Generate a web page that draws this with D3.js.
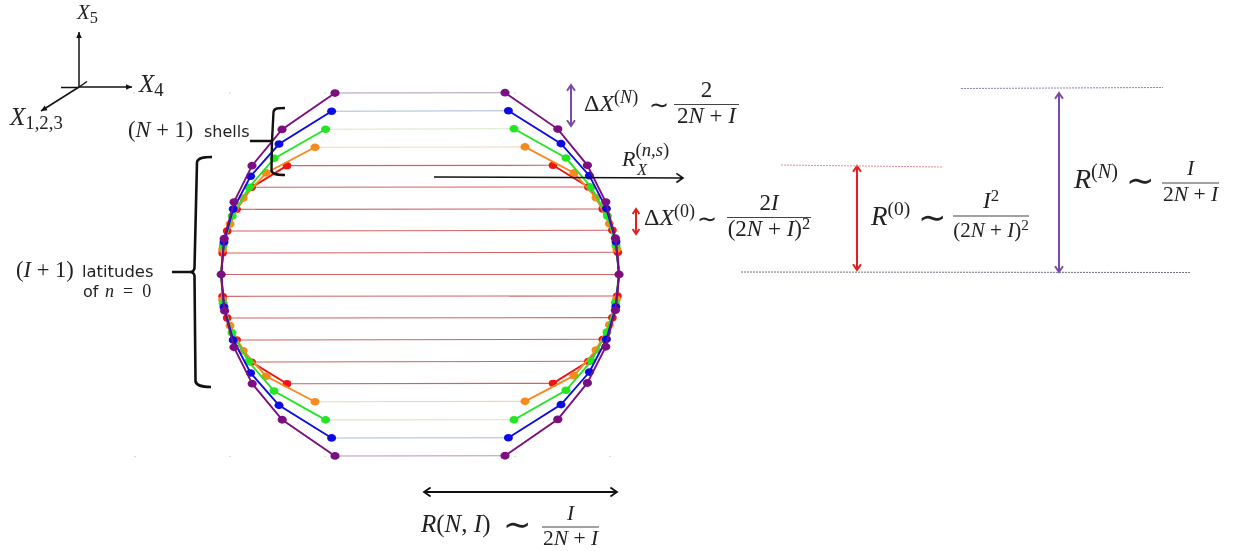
<!DOCTYPE html>
<meta charset="utf-8">
<html>
<head>
<style>
	body { margin: 0; background: white; overflow: hidden; }
	svg { display: block; filter: blur(0.45px); }
</style>
</head>
<body>
	<div id="chart"></div>
	<script src="https://d3js.org/d3.v7.min.js"></script>
	<script>
		// shells in unit coordinates, [x, y], top to bottom, the equator point is added below
		const purpleLeft = [[-0.425,0.997],[-0.69,0.797],[-0.84,0.598],[-0.93,0.398],[-0.979,0.197],[-0.977,-0.199],[-0.93,-0.4],[-0.839,-0.6],[-0.689,-0.798],[-0.425,-0.997]];
		const purpleRight = [[0.425,0.999],[0.689,0.799],[0.837,0.6],[0.929,0.398],[0.977,0.199],[0.977,-0.197],[0.929,-0.397],[0.837,-0.596],[0.689,-0.796],[0.425,-0.996]];
		const blueLeft = [[-0.442,0.897],[-0.705,0.717],[-0.847,0.54],[-0.934,0.36],[-0.98,0.179],[-0.98,-0.179],[-0.934,-0.36],[-0.847,-0.541],[-0.705,-0.719],[-0.442,-0.898]];
		const blueRight = [[0.442,0.9],[0.705,0.719],[0.847,0.543],[0.932,0.362],[0.98,0.18],[0.979,-0.177],[0.932,-0.356],[0.847,-0.536],[0.705,-0.715],[0.442,-0.897]];
		const greenLeft = [[-0.472,0.798],[-0.729,0.638],[-0.855,0.479],[-0.939,0.321],[-0.984,0.158],[-0.984,-0.158],[-0.94,-0.32],[-0.857,-0.479],[-0.73,-0.64],[-0.472,-0.799]];
		const greenRight = [[0.47,0.801],[0.73,0.64],[0.855,0.481],[0.937,0.321],[0.98,0.16],[0.977,-0.155],[0.935,-0.316],[0.857,-0.475],[0.73,-0.636],[0.47,-0.798]];
		const orangeLeft = [[-0.525,0.699],[-0.769,0.558],[-0.884,0.42],[-0.95,0.277],[-0.987,0.138],[-0.987,-0.14],[-0.95,-0.281],[-0.884,-0.419],[-0.769,-0.559],[-0.525,-0.699]];
		const orangeRight = [[0.525,0.701],[0.77,0.558],[0.88,0.422],[0.947,0.279],[0.984,0.14],[0.982,-0.136],[0.947,-0.277],[0.88,-0.415],[0.77,-0.556],[0.525,-0.697]];
		const redLeft = [[-0.665,0.598],[-0.842,0.479],[-0.917,0.358],[-0.964,0.239],[-0.987,0.118],[-0.987,-0.12],[-0.964,-0.239],[-0.917,-0.36],[-0.842,-0.481],[-0.665,-0.6]];
		const redRight = [[0.665,0.6],[0.842,0.481],[0.914,0.36],[0.962,0.243],[0.989,0.122],[0.987,-0.118],[0.962,-0.237],[0.914,-0.356],[0.842,-0.477],[0.665,-0.598]];
		const equatorLeft = [-0.994, 0];
		const equatorRight = [0.995, 0];

		let width = 1235,
		    height = 551;

		let x = d3.scaleLinear().domain([-1, 1]).range([220, 620]);
		let y = d3.scaleLinear().domain([-1, 1]).range([456.5, 92.5]);

		var svg = d3.select("#chart").append("svg")
		    .attr("width", width)
		    .attr("height", height);

		// red first, purple ends up on top
		let shells = [
			{left: redLeft, right: redRight, color: "#ee1414", line: "#d06464", r: 4.3},
			{left: orangeLeft, right: orangeRight, color: "#f58a1f", line: "#f3d6bd", r: 4.5},
			{left: greenLeft, right: greenRight, color: "#22e622", line: "#d6e9c6", r: 4.5},
			{left: blueLeft, right: blueRight, color: "#0c0ce2", line: "#a9bcd8", r: 4.5},
			{left: purpleLeft, right: purpleRight, color: "#7c0f80", line: "#b596b8", r: 4.6}
		];

		let lineGen = d3.line().x(d => x(d[0])).y(d => y(d[1]));
		let withEquator = (pts, eq) => pts.slice(0, 5).concat([eq], pts.slice(5));

		// latitudes
		let lats = [];
		shells.forEach((s, k) => {
			let idx = k == 0 ? d3.range(10) : [0, 9];
			idx.forEach(i => lats.push({a: s.left[i], b: s.right[i], color: s.line}));
		});
		lats.push({a: equatorLeft, b: equatorRight, color: "#d06464"});

		svg.append("g").selectAll("line")
		    .data(lats)
		    .enter()
		    .append("line")
		    .attr("x1", d => x(d.a[0]))
		    .attr("y1", d => y(d.a[1]))
		    .attr("x2", d => x(d.b[0]))
		    .attr("y2", d => y(d.b[1]))
		    .attr("stroke", d => d.color)
		    .attr("stroke-width", 1.1);

		shells.forEach(s => {
			let g = svg.append("g");
			let left = withEquator(s.left, equatorLeft),
			    right = withEquator(s.right, equatorRight);
			[left, right].forEach(pts => {
				g.append("path")
				    .attr("d", lineGen(pts))
				    .attr("fill", "none")
				    .attr("stroke", s.color)
				    .attr("stroke-width", 1.9);
			});
			g.selectAll("ellipse")
			    .data(s.left.concat(s.right))
			    .enter()
			    .append("ellipse")
			    .attr("cx", d => x(d[0]))
			    .attr("cy", d => y(d[1]))
			    .attr("rx", s.r)
			    .attr("ry", s.r * 0.85)
			    .attr("fill", s.color);
		});

		// equator points
		svg.append("g").selectAll("ellipse")
		    .data([equatorLeft, equatorRight])
		    .enter()
		    .append("ellipse")
		    .attr("cx", d => x(d[0]))
		    .attr("cy", d => y(d[1]))
		    .attr("rx", 4.6)
		    .attr("ry", 3.9)
		    .attr("fill", "#7c0f80");

		// little leftovers around the figure
		[[134, 93], [230, 93], [325, 93], [515, 93], [135, 456.5], [230, 456.5], [325, 456.5], [515, 456.5], [610, 456.5]].forEach(d => {
			svg.append("circle")
			    .attr("cx", d[0]).attr("cy", d[1]).attr("r", 0.8)
			    .attr("fill", "#d9cfa8");
		});

		// arrow with open heads, both = head on both ends
		function arrow(x1, y1, x2, y2, color, w, both, h) {
			h = h || 6;
			let ang = Math.atan2(y2 - y1, x2 - x1);
			let p = d3.path();
			p.moveTo(x1, y1);
			p.lineTo(x2, y2);
			let head = (px, py, a) => {
				p.moveTo(px - h * Math.cos(a - 0.6), py - h * Math.sin(a - 0.6));
				p.lineTo(px, py);
				p.lineTo(px - h * Math.cos(a + 0.6), py - h * Math.sin(a + 0.6));
			};
			head(x2, y2, ang);
			if (both) head(x1, y1, ang + Math.PI);
			svg.append("path")
			    .attr("d", p.toString())
			    .attr("fill", "none")
			    .attr("stroke", color)
			    .attr("stroke-width", w);
		}

		function solidArrow(x1, y1, x2, y2) {
			let ang = Math.atan2(y2 - y1, x2 - x1);
			svg.append("line")
			    .attr("x1", x1).attr("y1", y1).attr("x2", x2).attr("y2", y2)
			    .attr("stroke", "#111").attr("stroke-width", 1.5);
			let a = 6, b = 2.8;
			let pts = [[x2, y2],
				[x2 - a * Math.cos(ang) - b * Math.sin(ang), y2 - a * Math.sin(ang) + b * Math.cos(ang)],
				[x2 - a * Math.cos(ang) + b * Math.sin(ang), y2 - a * Math.sin(ang) - b * Math.cos(ang)]];
			svg.append("polygon").attr("points", pts.join(" ")).attr("fill", "#111");
		}

		// coordinate cross
		solidArrow(79, 87, 79, 32);
		solidArrow(79, 87, 132, 87);
		solidArrow(79, 87, 41, 111);
		svg.append("path")
		    .attr("d", "M61,87.5L79,87.5M79,87L87,81.5")
		    .attr("stroke", "#111").attr("stroke-width", 1.5).attr("fill", "none");

		const purple = "#7b4aa6", red = "#e02020", ink = "#222";

		arrow(571, 85, 571, 126, purple, 2, true, 7);
		arrow(636, 209, 636, 234, red, 2, true, 6);
		arrow(434, 177, 683, 178, "#111", 1.6, false, 8);
		arrow(424, 492, 617, 492, "#111", 1.8, true, 8);
		arrow(857, 166, 857, 270, red, 2.1, true, 7);
		arrow(1059, 93, 1059, 272, purple, 2, true, 7);

		// dotted levels
		[[781, 165, 943, 167, "#e58a8a"], [961, 88.5, 1163, 87.5, "#8f7db8"], [741, 272, 1191, 272.5, "#6f6f80"]].forEach(d => {
			svg.append("line")
			    .attr("x1", d[0]).attr("y1", d[1]).attr("x2", d[2]).attr("y2", d[3])
			    .attr("stroke", d[4]).attr("stroke-width", 1)
			    .attr("stroke-dasharray", "2 1");
		});

		// braces
		svg.append("path")
		    .attr("d", "M285,108C278,108 274,108 273.5,112L272,141L250,141M272,141L271.5,170C271.5,174 276,175 285,175")
		    .attr("fill", "none").attr("stroke", "#111").attr("stroke-width", 2.4);
		svg.append("path")
		    .attr("d", "M212,157C203,157 198,158 197,162L194.5,268Q194,272 190,272L172,272M190,272Q194,272 194.5,276L195.5,381C196,386 203,387 211,387")
		    .attr("fill", "none").attr("stroke", "#111").attr("stroke-width", 2.6);

		// text, pieces are [string, kind, size factor, rise, dx]
		const serif = "'Liberation Serif', serif";
		function math(px, py, pieces, size, anchor) {
			let t = svg.append("text")
			    .attr("x", px).attr("y", py)
			    .attr("text-anchor", anchor || "start")
			    .attr("font-family", serif)
			    .attr("font-size", size)
			    .attr("fill", ink);
			let rise = 0;
			pieces.forEach(p => {
				let r = p[3] || 0;
				let ts = t.append("tspan")
				    .attr("dy", rise - r)
				    .attr("font-size", size * (p[2] || 1))
				    .text(p[0]);
				if (p[4]) ts.attr("dx", p[4]);
				if (p[1] == "i") ts.attr("font-style", "italic");
				if (p[1] == "s") ts.attr("font-family", "'DejaVu Sans', sans-serif");
				rise = r;
			});
		}
		function sans(px, py, str, size, anchor) {
			svg.append("text")
			    .attr("x", px).attr("y", py)
			    .attr("text-anchor", anchor || "start")
			    .attr("font-family", "'DejaVu Sans', sans-serif")
			    .attr("font-size", size)
			    .attr("fill", ink)
			    .text(str);
		}
		function frac(x1, x2, barY, numY, denY, num, den, size) {
			svg.append("line")
			    .attr("x1", x1).attr("x2", x2).attr("y1", barY).attr("y2", barY)
			    .attr("stroke", "#444").attr("stroke-width", 1.1);
			math((x1 + x2) / 2, numY, num, size, "middle");
			math((x1 + x2) / 2, denY, den, size, "middle");
		}
		let denom = [["2"], ["N", "i"], [" + "], ["I", "i"]];
		let denomSq = [["(2"], ["N", "i"], [" + "], ["I", "i"], [")"], ["2", "", 0.72, 7]];

		math(77, 19, [["X", "i"], ["5", "", 0.78, -4]], 21);
		math(139, 92, [["X", "i"], ["4", "", 0.75, -4]], 25);
		math(10, 125, [["X", "i"], ["1,2,3", "", 0.75, -4]], 25);

		math(128, 137, [["("], ["N", "i"], [" + 1)"]], 22.5);
		sans(204, 137, "shells", 16);
		math(16, 277, [["("], ["I", "i"], [" + 1)"]], 22.5);
		sans(82, 277, "latitudes", 16.4);
		sans(83, 297, "of", 16);
		math(105, 297, [["n", "i"], ["\u00a0\u00a0=\u00a0\u00a00"]], 18);

		math(584, 111, [["Δ"], ["X", "i"], ["(", "", 0.75, 8], ["N", "i", 0.75, 8], [")", "", 0.75, 8]], 24);
		math(649, 113, [["∼", "s"]], 24);
		frac(674, 739, 104.5, 97, 123, [["2"]], denom, 23);

		// R with both scripts kept in one text, X is stepped back under the superscript
		math(622, 166, [["R", "i"], ["(", "", 0.85, 10], ["n,s", "i", 0.85, 10], [")", "", 0.85, 10], ["X", "i", 0.72, -9, -32]], 22);

		math(644, 225, [["Δ"], ["X", "i"], ["(0)", "", 0.75, 8]], 24);
		math(697, 227, [["∼", "s"]], 24);
		frac(727, 811, 217.5, 210, 236, [["2"], ["I", "i"]], denomSq, 23);

		math(871, 225, [["R", "i"], ["(0)", "", 0.72, 10]], 27);
		math(918, 229, [["∼", "s"]], 34);
		frac(953, 1029, 216, 208, 237, [["I", "i", 1.1], ["2", "", 0.8, 7]], denomSq, 21);

		math(1074, 188, [["R", "i"], ["(", "", 0.72, 10], ["N", "i", 0.72, 10], [")", "", 0.72, 10]], 28);
		math(1126, 192, [["∼", "s"]], 34);
		frac(1162, 1219, 183, 175, 201, [["I", "i"]], denom, 21.5);

		math(421, 532, [["R", "i"], ["("], ["N", "i"], [", "], ["I", "i"], [")"]], 25);
		math(503, 536, [["∼", "s"]], 34);
		frac(542, 599, 527, 520, 545, [["I", "i"]], denom, 21.5);
	</script>
</body>
</html>
